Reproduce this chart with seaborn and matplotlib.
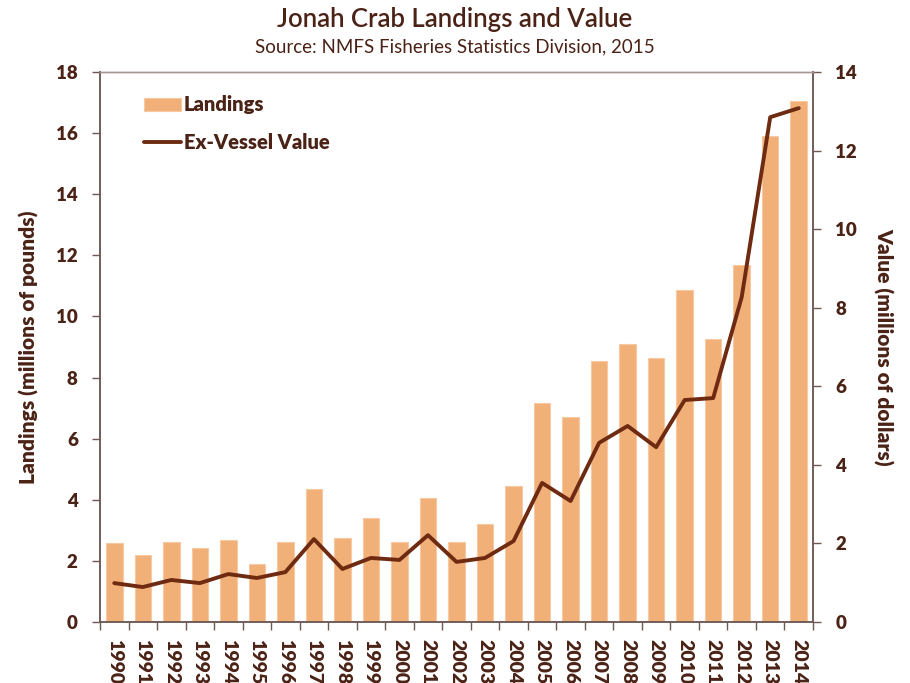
import numpy as np
import pandas as pd
import matplotlib
matplotlib.use("Agg")
import matplotlib.pyplot as plt
from matplotlib.ticker import FixedLocator, MultipleLocator
import seaborn as sns

years = [str(y) for y in range(1990, 2015)]
landings = [2.6, 2.2, 2.62, 2.42, 2.68, 1.9, 2.62, 4.35, 2.75, 3.4, 2.62, 4.06, 2.62, 3.2, 4.45,
            7.17, 6.7, 8.54, 9.1, 8.64, 10.86, 9.26, 11.68, 15.9, 17.05]
value = [0.99, 0.89, 1.07, 0.99, 1.22, 1.12, 1.27, 2.11, 1.35, 1.63, 1.58, 2.21, 1.53, 1.63, 2.06,
         3.54, 3.08, 4.56, 4.99, 4.45, 5.65, 5.70, 8.27, 12.85, 13.08]

title = "Jonah Crab Landings and Value"
subtitle = "Source: NMFS Fisheries Statistics Division, 2015"
ylabel_left = "Landings (millions of pounds)"
ylabel_right = "Value (millions of dollars)"

BAR = "#F2B079"
BAR_EDGE = "#F7C9A2"
LINE = "#6E2B12"
TEXT = "#4A2216"
SPINE = "#6E5A55"
W = 'heavy'

sns.set_theme(style="white")
plt.rcParams['font.family'] = ['Lato', 'DejaVu Sans']

df = pd.DataFrame({"year": years, "landings": landings, "value": value})

fig = plt.figure(figsize=(9.10, 6.83), dpi=100)
ax = fig.add_axes([100/910, 1-622/683, 713/910, 550/683])

sns.barplot(data=df, x="year", y="landings", color=BAR, saturation=1, width=0.58,
            edgecolor=BAR_EDGE, linewidth=0.8, ax=ax, label="Landings")
ax.set_xlim(-0.5, len(years)-0.5)
ax.set_ylim(0, 18)
ax.yaxis.set_major_locator(MultipleLocator(2))

ax2 = ax.twinx()
sns.lineplot(x=np.arange(len(years)), y=value, color=LINE, linewidth=2.8, ax=ax2,
             label="Ex-Vessel Value", legend=False)
ax2.set_ylim(0, 14)
ax2.yaxis.set_major_locator(MultipleLocator(2))
ax2.set_xlim(-0.5, len(years)-0.5)

for a in (ax, ax2):
    for s in a.spines.values():
        s.set_color(SPINE)
        s.set_linewidth(1.1)
    a.spines['top'].set_color("#A8958F")
    a.spines['top'].set_linewidth(1.0)

ax.tick_params(axis='y', direction='out', length=6, width=1, color=SPINE,
               labelsize=13.5, labelcolor=TEXT, pad=10)
ax2.tick_params(axis='y', direction='out', length=6, width=1, color=SPINE,
                labelsize=13.5, labelcolor=TEXT, pad=10)
for lab in ax.get_yticklabels() + ax2.get_yticklabels():
    lab.set_fontweight(W)

ax.set_xticks(np.arange(len(years)))
ax.set_xticklabels(years, rotation=270, fontsize=14, fontweight=W, color=TEXT)
ax.xaxis.set_minor_locator(FixedLocator(np.arange(-0.5, len(years), 1.0)))
ax.tick_params(axis='x', which='major', length=0, pad=12)
ax.tick_params(axis='x', which='minor', direction='out', length=6, width=1, color=SPINE, bottom=True)
ax.set_xlabel("")

ax.set_ylabel(ylabel_left, fontsize=15, fontweight=W, color=TEXT, labelpad=12)
ax2.set_ylabel(ylabel_right, fontsize=15, fontweight=W, color=TEXT, rotation=270, labelpad=26)
ax2.grid(False)
ax.grid(False)

h1, l1 = ax.get_legend_handles_labels()
h2, l2 = ax2.get_legend_handles_labels()
leg = ax.legend(h1 + h2, l1 + l2, loc='upper left', bbox_to_anchor=(0.051, 0.972), frameon=False,
                fontsize=14.5, handlelength=1.8, handleheight=0.6, handletextpad=0.15, labelspacing=0.9,
                borderaxespad=0)
for t in leg.get_texts():
    t.set_fontweight(W)
    t.set_color(TEXT)

fig.text(0.5, 1-20/683, title, ha='center', va='center', fontsize=18.5, color=TEXT, fontweight='semibold')
fig.text(0.5, 1-47/683, subtitle, ha='center', va='center', fontsize=13.5, color=TEXT)

fig.savefig("out.png", dpi=100)
